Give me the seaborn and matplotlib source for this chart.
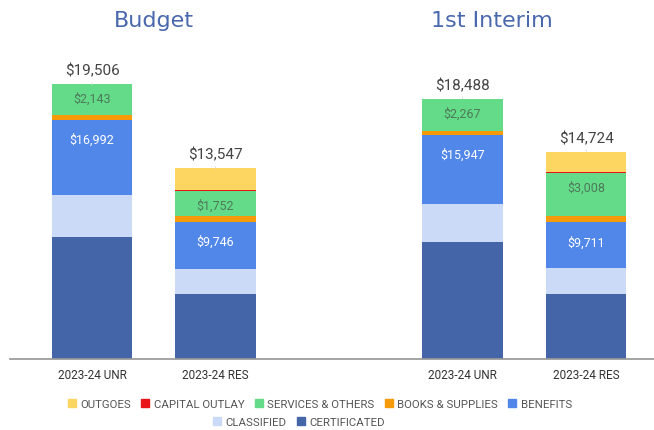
import numpy as np
import pandas as pd
import seaborn as sns
import matplotlib.pyplot as plt
from matplotlib.patches import Patch

# bar categories and groups
bars = ['2023-24 UNR', '2023-24 RES', '2023-24 UNR', '2023-24 RES']
groups = ['Budget', '1st Interim']
positions = [0, 1, 3, 4]

# segment values (bottom to top), $ thousands
certificated = [8680, 4660, 8350, 4600]
classified = [2950, 1775, 2680, 1900]
benefits = [5362, 3311, 4917, 3211]
books = [371, 440, 240, 470]
services = [2143, 1752, 2267, 3008]
capital = [0, 70, 34, 80]
outgoes = [0, 1539, 0, 1455]

series = ['CERTIFICATED', 'CLASSIFIED', 'BENEFITS', 'BOOKS & SUPPLIES',
          'SERVICES & OTHERS', 'CAPITAL OUTLAY', 'OUTGOES']
colors = ['#4466a9', '#cbdbf7', '#5187e9', '#f79a0a', '#64db88', '#e8141a', '#fcd660']

sns.set_theme(style='white')
plt.rcParams['font.family'] = ['Roboto', 'DejaVu Sans']

df = pd.DataFrame({'pos': positions, 'CERTIFICATED': certificated, 'CLASSIFIED': classified,
                   'BENEFITS': benefits, 'BOOKS & SUPPLIES': books,
                   'SERVICES & OTHERS': services, 'CAPITAL OUTLAY': capital,
                   'OUTGOES': outgoes})

fig = plt.figure(figsize=(6.54, 4.31), dpi=100)
ax = fig.add_axes([10 / 654, (431 - 360.3) / 431, 644 / 654, 310 / 431])

bottom = np.zeros(len(df))
tops = {}
for s, c in zip(series, colors):
    ax.bar(df['pos'], df[s], bottom=bottom, width=0.65, color=c, edgecolor='none')
    bottom = bottom + df[s].values
    tops[s] = bottom.copy()

totals = bottom
cum_benefit = tops['BENEFITS']

for i, x in enumerate(df['pos']):
    # total on top
    ax.annotate(f'${totals[i]:,.0f}', (x, totals[i]), xytext=(0, 5), textcoords='offset points',
                ha='center', va='bottom', fontsize=11, color='#444444')
    ax.annotate('', (x, totals[i]), xytext=(x, totals[i] + 150),
                arrowprops=dict(arrowstyle='-', color='#dddddd', lw=0.6))
    # cumulative label in benefits segment
    ax.annotate(f'${cum_benefit[i]:,.0f}', (x, cum_benefit[i]), xytext=(0, -14),
                textcoords='offset points', ha='center', va='center', fontsize=9, color='white')
    # services label
    ax.annotate(f'${services[i]:,.0f}', (x, tops['SERVICES & OTHERS'][i]), xytext=(0, -10),
                textcoords='offset points', ha='center', va='center', fontsize=9, color='#4d7a5a')

ax.set_xlim(-0.664, 4.55)
ax.set_ylim(0, 22000)
ax.set_xticks(positions)
ax.set_xticklabels(bars, fontsize=8.5, color='#333333')
ax.tick_params(axis='x', length=0, pad=6)
ax.set_yticks([])
sns.despine(ax=ax, left=True)
ax.spines['bottom'].set_color('#999999')

title_kw = dict(ha='center', va='center', fontsize=16, color='#4a68ad', family=['DejaVu Sans'])
fig.text(154 / 654, 1 - 21 / 431, groups[0], **title_kw)
fig.text(492 / 654, 1 - 21 / 431, groups[1], **title_kw)

order1 = ['OUTGOES', 'CAPITAL OUTLAY', 'SERVICES & OTHERS', 'BOOKS & SUPPLIES', 'BENEFITS']
order2 = ['CLASSIFIED', 'CERTIFICATED']
cmap = dict(zip(series, colors))
kw = dict(frameon=False, handlelength=0.7, handleheight=0.7, handletextpad=0.4,
          columnspacing=0.9, fontsize=8.2, labelcolor='#555555')
leg1 = fig.legend([Patch(color=cmap[s]) for s in order1], order1, ncol=5,
                  loc='center', bbox_to_anchor=(320 / 654, 1 - 405 / 431), **kw)
leg2 = fig.legend([Patch(color=cmap[s]) for s in order2], order2, ncol=2,
                  loc='center', bbox_to_anchor=(299 / 654, 1 - 423 / 431), **kw)

fig.savefig('out.png', dpi=100)
